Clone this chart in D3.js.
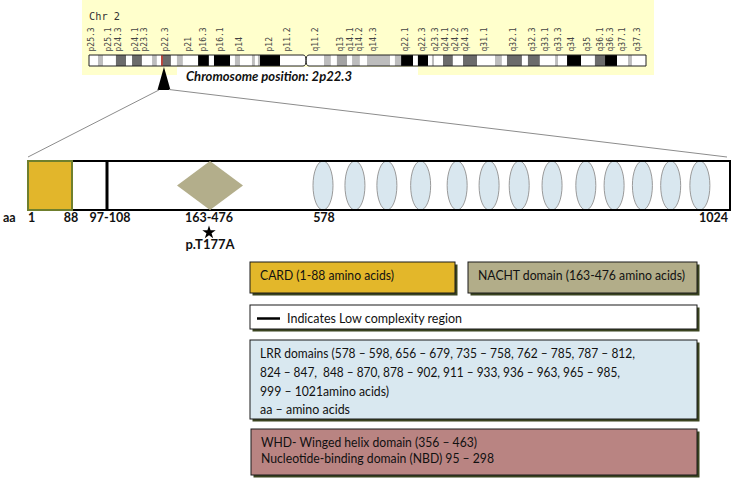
<!DOCTYPE html>
<html><head><meta charset="utf-8">
<script src="https://cdn.jsdelivr.net/npm/d3@7"></script>
<style>body{margin:0;background:#fff} svg{display:block} text{white-space:pre}</style>
</head><body><svg id="c" width="733" height="479"></svg>
<script>
// ---------------- DATA ----------------
const chromName = "Chr 2";
const chromLength = 242; // Mb
const centromere = [93.0, 95.6];
// [start Mb, end Mb, stain]
const chromBands = [
  [0,3.9,"w"],[3.9,6.1,"g25"],[6.1,11.7,"w"],[11.7,16.1,"g75"],[16.1,18.7,"w"],[18.7,23.0,"g75"],
  [23.0,27.4,"w"],[27.4,29.5,"g25"],[29.5,31.3,"w"],[31.3,35.6,"g75"],[35.6,38.2,"w"],[38.2,40.8,"g25"],
  [40.8,47.4,"w"],[47.4,52.1,"k"],[52.1,54.3,"w"],[54.3,61.3,"k"],[61.3,63.4,"w"],[63.4,65.6,"g25"],
  [65.6,70.8,"w"],[70.8,72.1,"g25"],[72.1,73.4,"w"],[73.4,74.3,"g25"],[74.3,83.0,"k"],[83.0,93.0,"w"],
  [95.6,102.1,"w"],[102.1,105.1,"g25"],[105.1,107.7,"w"],[107.7,112.1,"g50"],[112.1,114.3,"w"],
  [114.3,117.7,"g25"],[117.7,120.8,"w"],[120.8,130.8,"g25"],[130.8,132.9,"w"],[132.9,135.6,"g25"],
  [135.6,140.8,"k"],[140.8,142.9,"w"],[142.9,147.3,"k"],[147.3,149.0,"w"],[149.0,149.9,"g25"],
  [149.9,153.8,"w"],[153.8,158.1,"g75"],[158.1,162.5,"w"],[162.5,168.6,"g75"],[168.6,176.4,"w"],
  [176.4,179.4,"g25"],[179.4,181.6,"w"],[181.6,188.1,"g75"],[188.1,190.7,"w"],[190.7,195.9,"g75"],
  [195.9,202.5,"w"],[202.5,203.8,"g25"],[203.8,207.7,"w"],[207.7,213.8,"k"],[213.8,219.8,"w"],
  [219.8,224.2,"g75"],[224.2,229.4,"k"],[229.4,234.2,"w"],[234.2,235.9,"g25"],[235.9,242.0,"w"]
];
const bandLabels = ["p25.3","p25.1","p24.3","p24.1","p23.3","p22.3","p21","p16.3","p16.1","p14","p12","p11.2",
  "q11.2","q13","q14.1","q14.2","q14.3","q22.1","q22.3","q23.3","q24.1","q24.2","q24.3","q31.1",
  "q32.1","q32.3","q33.1","q33.3","q34","q35","q36.1","q36.3","q37.1","q37.3"];
const bandLabelPos = [0.9,8.6,13.0,20.2,24.3,33.0,43.0,49.6,57.3,65.5,78.2,86.0,
  98.2,109.1,113.4,117.7,123.4,137.3,144.7,150.3,154.7,159.0,163.4,171.6,
  184.2,192.5,198.2,203.8,209.8,216.4,222.0,226.4,231.6,238.1];
const markerPos = 31.7;
const markerLabel = "Chromosome position: 2p22.3";

const proteinLength = 1024;
const cardDomain = [1, 88];
const lowComplexity = [97, 108];
const nachtDomain = [163, 476];
const lrrRepeatCentres = [578, 613, 648, 685, 725, 760, 793, 829, 866, 897, 928, 959, 991];
const mutationLabel = "p.T177A";
const residueLabels = ["1", "88", "97-108", "163-476", "578", "1024"];

const legendCard = "CARD (1-88 amino acids)";
const legendNacht = "NACHT domain (163-476 amino acids)";
const legendLow = "Indicates Low complexity region";
const legendLrr = [
  "LRR domains (578 – 598, 656 – 679, 735 – 758, 762 – 785, 787 – 812,",
  "824 – 847,  848 – 870, 878 – 902, 911 – 933, 936 – 963, 965 – 985,",
  "999 – 1021amino acids)",
  "aa – amino acids"
];
const legendWhd = [
  "WHD- Winged helix domain (356 – 463)",
  "Nucleotide-binding domain (NBD) 95 – 298"
];

// ---------------- DRAW ----------------
const svg = d3.select("#c");
const defs = svg.append("defs");
const F = "Lato, 'Open Sans', sans-serif";
const MONO = "'DejaVu Sans Mono', monospace";
const YEL = "#ffffcc";
const stainColor = {w:"#ffffff", g25:"#bdbdbd", g50:"#a3a3a3", g75:"#6b6b6b", k:"#000000"};

// yellow panel
svg.append("rect").attr("x",82).attr("y",0).attr("width",572).attr("height",67).attr("fill",YEL);
svg.append("rect").attr("x",82).attr("y",66).attr("width",95).attr("height",9).attr("fill",YEL);
svg.append("rect").attr("x",418).attr("y",66).attr("width",236).attr("height",9).attr("fill",YEL);

svg.append("text").attr("x",89).attr("y",20).attr("font-family",MONO).attr("font-size",10.3)
  .attr("fill","#333").text(chromName);

const cx = d3.scaleLinear().domain([0, chromLength]).range([89, 646]);
const cTop = 55, cBot = 66, cMid = (cTop + cBot) / 2;
const cm = (centromere[0] + centromere[1]) / 2;
const pPath = `M${cx(0)},${cTop}H${cx(centromere[0])}Q${cx(cm)},${cTop} ${cx(cm)},${cMid}Q${cx(cm)},${cBot} ${cx(centromere[0])},${cBot}H${cx(0)}Z`;
const qPath = `M${cx(chromLength)},${cTop}H${cx(centromere[1])}Q${cx(cm)},${cTop} ${cx(cm)},${cMid}Q${cx(cm)},${cBot} ${cx(centromere[1])},${cBot}H${cx(chromLength)}Z`;
const cp = defs.append("clipPath").attr("id","chromClip");
cp.append("path").attr("d",pPath);
cp.append("path").attr("d",qPath);

const cg = svg.append("g").attr("clip-path","url(#chromClip)");
cg.append("rect").attr("x",cx(0)).attr("y",cTop).attr("width",cx(chromLength)-cx(0)).attr("height",cBot-cTop).attr("fill","#fff");
cg.selectAll("rect.band").data(chromBands).join("rect").attr("class","band")
  .attr("x",d=>cx(d[0])).attr("y",cTop).attr("width",d=>cx(d[1])-cx(d[0])).attr("height",cBot-cTop)
  .attr("fill",d=>stainColor[d[2]]);
svg.append("path").attr("d",pPath).attr("fill","none").attr("stroke","#222").attr("stroke-width",1);
svg.append("path").attr("d",qPath).attr("fill","none").attr("stroke","#222").attr("stroke-width",1);

svg.selectAll("text.bl").data(bandLabels).join("text").attr("class","bl")
  .attr("transform",(d,i)=>`translate(${cx(bandLabelPos[i])},51.5) rotate(-90)`)
  .attr("dy","0.32em").attr("font-family",MONO).attr("font-size",8).attr("fill","#444").text(d=>d);

// marker
const mx = cx(markerPos);
svg.append("line").attr("x1",mx).attr("x2",mx).attr("y1",cTop+0.5).attr("y2",cBot-0.5)
  .attr("stroke","#d23a2e").attr("stroke-width",1.5);
const tx = mx + 2;
svg.append("path").attr("d",`M${tx},67L${tx-6.5},90L${tx+6.5},90Z`).attr("fill","#000");
svg.append("text").attr("x",186).attr("y",81).attr("font-family",F).attr("font-weight","bold")
  .attr("font-style","italic").attr("font-size",13).attr("fill","#111")
  .attr("textLength",166).attr("lengthAdjust","spacingAndGlyphs").text(markerLabel);

// protein
const aa = d3.scaleLinear().domain([1, 88, 97, 108, 163, 476, 578, proteinLength])
  .range([28, 72, 105.5, 108.5, 177, 243, 323, 730]);
const pTop = 161, pBot = 210, pMid = (pTop + pBot) / 2;

svg.append("line").attr("x1",tx-5).attr("y1",90).attr("x2",aa(1)).attr("y2",157).attr("stroke","#8c8c8c").attr("stroke-width",1);
svg.append("line").attr("x1",tx+5).attr("y1",89.5).attr("x2",aa(proteinLength)-3).attr("y2",157).attr("stroke","#8c8c8c").attr("stroke-width",1);

svg.selectAll("ellipse.lrr").data(lrrRepeatCentres).join("ellipse").attr("class","lrr")
  .attr("cx",d=>aa(d)).attr("cy",pMid).attr("rx",10).attr("ry",(pBot-pTop)/2)
  .attr("fill","#d9e7ef").attr("stroke","#9a9a9a").attr("stroke-width",1);

svg.append("path").attr("d",`M${aa(cardDomain[1])},${pTop}H${aa(proteinLength)}V${pBot}H${aa(cardDomain[1])}`)
  .attr("fill","none").attr("stroke","#000").attr("stroke-width",2);

svg.append("rect").attr("x",aa(cardDomain[0])).attr("y",pTop).attr("width",aa(cardDomain[1])-aa(cardDomain[0]))
  .attr("height",pBot-pTop).attr("fill","#e2b62b").attr("stroke","#6f7f2d").attr("stroke-width",2);

svg.append("rect").attr("x",aa(lowComplexity[0])).attr("y",pTop).attr("width",aa(lowComplexity[1])-aa(lowComplexity[0]))
  .attr("height",pBot-pTop).attr("fill","#000");

const n0 = aa(nachtDomain[0]), n1 = aa(nachtDomain[1]), nc = (n0 + n1) / 2;
svg.append("path").attr("d",`M${nc},${pTop}L${n1},${pMid}L${nc},${pBot}L${n0},${pMid}Z`).attr("fill","#b3ae8b");

// residue labels
const lblY = 222;
const lblPos = [
  {x: aa(cardDomain[0]), a: "start"},
  {x: aa(cardDomain[1]) - 1, a: "middle"},
  {x: (aa(lowComplexity[0]) + aa(lowComplexity[1])) / 2 + 3, a: "middle"},
  {x: nc - 1, a: "middle"},
  {x: aa(lrrRepeatCentres[0]) + 1, a: "middle"},
  {x: aa(proteinLength) - 2, a: "end"}
];
svg.append("text").attr("x",3).attr("y",lblY).attr("font-family",F).attr("font-weight","bold").attr("font-size",12.5).attr("fill","#111").text("aa");
svg.selectAll("text.rl").data(residueLabels).join("text").attr("class","rl")
  .attr("x",(d,i)=>lblPos[i].x).attr("y",lblY).attr("text-anchor",(d,i)=>lblPos[i].a)
  .attr("font-family",F).attr("font-weight","bold").attr("font-size",12.5).attr("fill","#111").text(d=>d);
svg.append("path").attr("d",d3.symbol(d3.symbolStar, 56)()).attr("transform",`translate(${nc-1},232.5)`).attr("fill","#000");
svg.append("text").attr("x",nc).attr("y",249).attr("text-anchor","middle").attr("font-family",F)
  .attr("font-weight","bold").attr("font-size",13).attr("fill","#111").text(mutationLabel);

// legend boxes
let clipId = 0;
function box(x, y, w, h, fill, lines, tx0, baselines, widths) {
  svg.append("rect").attr("x",x+2.5).attr("y",y+2.5).attr("width",w).attr("height",h).attr("fill","#3b4520");
  svg.append("rect").attr("x",x).attr("y",y).attr("width",w).attr("height",h).attr("fill",fill)
    .attr("stroke","#1a1a1a").attr("stroke-width",1);
  const id = "bc" + (clipId++);
  defs.append("clipPath").attr("id",id).append("rect").attr("x",x).attr("y",y).attr("width",w).attr("height",h-4);
  const g = svg.append("g").attr("clip-path",`url(#${id})`);
  g.selectAll("text").data(lines).join("text").attr("x",tx0).attr("y",(d,i)=>baselines[i])
    .attr("font-family",F).attr("font-size",12.8).attr("fill","#111")
    .attr("textLength",(d,i)=>widths[i]).attr("lengthAdjust","spacingAndGlyphs").text(d=>d);
  return g;
}
box(250, 262, 205, 31, "#e3b72a", [legendCard], 260, [280], [134]);
box(468, 262, 229, 31, "#b2ad89", [legendNacht], 478, [280], [207]);
box(250, 305, 447, 24, "#ffffff", [legendLow], 287, [322.5], [175]);
svg.append("line").attr("x1",257).attr("x2",280).attr("y1",318.5).attr("y2",318.5).attr("stroke","#000").attr("stroke-width",2.5);
box(250, 340, 447, 79, "#d9e8f0", legendLrr, 260, [357.5, 376.5, 395.5, 413.5], [375, 360, 129, 90]);
box(251, 429, 446, 46, "#b98482", legendWhd, 261, [446.5, 462.5], [216, 233]);
</script></body></html>
